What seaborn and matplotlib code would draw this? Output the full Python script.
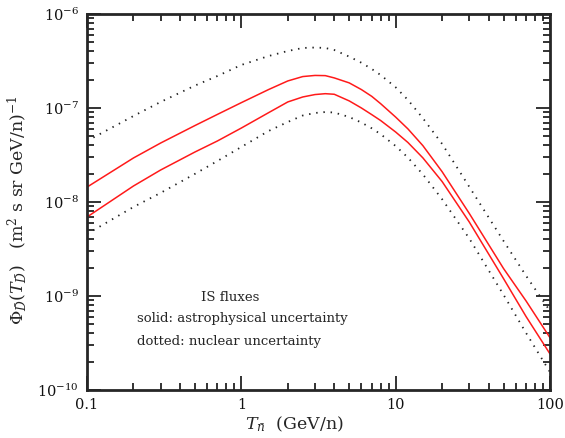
import matplotlib
matplotlib.use('Agg')
import matplotlib.pyplot as plt
import seaborn as sns
import numpy as np
import pandas as pd
from matplotlib.ticker import LogFormatterMathtext, NullFormatter, FuncFormatter

# kinetic energy per nucleon (GeV/n)
energy = [0.1, 0.2, 0.3, 0.5, 0.7, 1, 1.5, 2, 2.5, 3, 3.5, 4, 5, 6, 7, 8, 10, 12, 15, 20, 30, 50, 70, 100]

# IS fluxes (m^2 s sr GeV/n)^-1
astro_max = [1.44e-8, 2.94e-8, 4.24e-8, 6.50e-8, 8.55e-8, 1.14e-7, 1.57e-7, 1.94e-7, 2.16e-7, 2.22e-7,
             2.21e-7, 2.09e-7, 1.85e-7, 1.57e-7, 1.33e-7, 1.11e-7, 8.0e-8, 6.0e-8, 3.98e-8, 2.10e-8,
             7.55e-9, 1.96e-9, 8.85e-10, 3.60e-10]
astro_min = [6.92e-9, 1.48e-8, 2.19e-8, 3.40e-8, 4.46e-8, 6.12e-8, 8.91e-8, 1.16e-7, 1.31e-7, 1.39e-7,
             1.42e-7, 1.40e-7, 1.19e-7, 1.00e-7, 8.50e-8, 7.35e-8, 5.55e-8, 4.30e-8, 2.95e-8, 1.65e-8,
             6.12e-9, 1.53e-9, 6.04e-10, 2.42e-10]
nucl_max = [4.46e-8, 8.22e-8, 1.16e-7, 1.73e-7, 2.19e-7, 2.87e-7, 3.57e-7, 4.04e-7, 4.35e-7, 4.40e-7,
            4.35e-7, 4.14e-7, 3.52e-7, 3.03e-7, 2.60e-7, 2.24e-7, 1.66e-7, 1.22e-7, 7.80e-8, 4.15e-8,
            1.45e-8, 3.85e-9, 1.64e-9, 6.92e-10]
nucl_min = [4.57e-9, 8.85e-9, 1.25e-8, 1.99e-8, 2.73e-8, 3.85e-8, 5.69e-8, 7.10e-8, 8.32e-8, 8.85e-8,
            9.06e-8, 8.95e-8, 8.02e-8, 7.00e-8, 6.08e-8, 5.26e-8, 3.94e-8, 2.97e-8, 1.97e-8, 1.07e-8,
            4.09e-9, 1.03e-9, 4.04e-10, 1.55e-10]

x_major = [0.1, 1, 10, 100]
y_major = [1e-10, 1e-9, 1e-8, 1e-7, 1e-6]

sns.set_style("ticks")
plt.rcParams['font.family'] = ['DejaVu Serif']
plt.rcParams['mathtext.fontset'] = 'dejavuserif'

df = pd.DataFrame({'T': energy, 'astro_max': astro_max, 'astro_min': astro_min,
                   'nucl_max': nucl_max, 'nucl_min': nucl_min})

fig = plt.figure(figsize=(5.65, 4.38), dpi=100)
ax = fig.add_axes([87 / 565, 1 - 390 / 438, 463 / 565, 376 / 438])

for col in ['astro_max', 'astro_min']:
    sns.lineplot(data=df, x='T', y=col, color='#ff1a1a', linewidth=1.1, ax=ax)
for col in ['nucl_max', 'nucl_min']:
    sns.lineplot(data=df, x='T', y=col, color='#222222', linewidth=1.3,
                 linestyle=(0, (0.8, 3.2)), ax=ax)

ax.set_xscale('log')
ax.set_yscale('log')

# fixed ticks only inside the view (no hidden labels outside the figure)
x_minor = [m * d for d in x_major[:-1] for m in range(2, 10)]
y_minor = [m * d for d in y_major[:-1] for m in range(2, 10)]
ax.set_xticks(x_major)
ax.set_xticks(x_minor, minor=True)
ax.set_yticks(y_major)
ax.set_yticks(y_minor, minor=True)
ax.xaxis.set_major_formatter(FuncFormatter(lambda v, p: f'{v:g}'))
ax.xaxis.set_minor_formatter(NullFormatter())
ax.yaxis.set_major_formatter(LogFormatterMathtext())
ax.yaxis.set_minor_formatter(NullFormatter())
ax.set_xlim(0.1, 100)
ax.set_ylim(1e-10, 1e-6)

ax.tick_params(which='both', direction='in', top=True, right=True, width=1.2, colors='#111111')
ax.tick_params(which='major', length=10, labelsize=10.5, pad=6)
ax.tick_params(which='minor', length=5)
for sp in ax.spines.values():
    sp.set_linewidth(2)

ax.set_xlabel(r'$T_{\bar{n}}$  (GeV/n)', fontsize=12.5)
ax.set_ylabel(r'$\Phi_{\bar{D}}(T_{\bar{D}})$   (m$^2$ s sr GeV/n)$^{-1}$', fontsize=12.5)
ax.xaxis.set_label_coords(0.447, -0.066)
ax.yaxis.set_label_coords(-0.125, 0.479)

ax.text(0.309, 0.245, 'IS fluxes', transform=ax.transAxes, ha='center', va='center', fontsize=9.5)
ax.text(0.108, 0.189, 'solid: astrophysical uncertainty', transform=ax.transAxes,
        ha='left', va='center', fontsize=9.5)
ax.text(0.108, 0.128, 'dotted: nuclear uncertainty', transform=ax.transAxes,
        ha='left', va='center', fontsize=9.5)

fig.savefig('out.png', dpi=100)
